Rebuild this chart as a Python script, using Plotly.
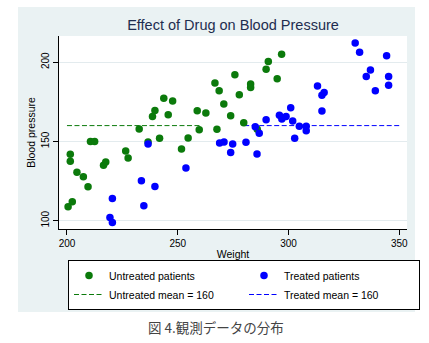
import plotly.graph_objects as go

# Untreated patients: weight vs blood pressure
untreated_weight = [200.5, 201.5, 201.5, 202.4, 204.5, 207.4, 209.5, 210.6, 212.5, 216.5,
                    217.5, 226.5, 227.6, 232.6, 236.6, 238.6, 239.7, 241.8, 243.7, 245.7,
                    247.7, 251.7, 254.7, 258.8, 259.7, 262.7, 266.8, 267.7, 268.7, 270.8,
                    273.9, 275.8, 277.8, 279.8, 282.9, 282.9, 285.9, 289.9, 290.9, 294.9,
                    296.9]
untreated_bp = [108.8, 137.5, 142.0, 112.0, 130.6, 127.7, 121.4, 150.0, 150.0, 135.0,
                137.0, 144.0, 139.6, 157.9, 149.7, 165.8, 169.6, 152.0, 177.2, 166.9,
                175.5, 145.3, 152.2, 169.4, 157.4, 167.9, 186.8, 157.7, 182.0, 173.6,
                166.2, 192.0, 179.4, 161.8, 186.2, 184.1, 157.7, 195.6, 200.4, 189.5,
                205.0]

# Treated patients: weight vs blood pressure
treated_weight = [219.4, 220.5, 220.5, 233.6, 234.7, 236.6, 239.7, 253.7, 268.9, 270.9,
                  273.9, 274.8, 280.8, 285.0, 285.8, 286.8, 289.9, 295.9, 297.0, 298.9,
                  301.0, 301.9, 302.8, 304.9, 308.0, 308.0, 313.1, 315.1, 316.1, 315.1,
                  330.1, 332.1, 335.1, 337.0, 339.2, 344.3, 345.2, 345.2]
treated_bp = [102.1, 98.9, 114.0, 125.2, 109.4, 148.4, 121.6, 133.3, 149.1, 149.7,
              143.0, 148.4, 149.5, 159.3, 142.1, 155.2, 163.7, 166.5, 164.2, 165.8,
              171.3, 162.9, 152.0, 159.6, 159.6, 156.8, 184.9, 179.1, 180.9, 169.2,
              212.1, 206.3, 191.0, 195.0, 182.0, 204.0, 191.0, 185.5]

# Group means and the weight span each reference line covers
untreated_mean = 160
treated_mean = 160
untreated_mean_span = [200, 260]
treated_mean_span = [280, 350]

x_ticks = [200, 250, 300, 350]
y_ticks = [100, 150, 200]

GREEN = "#0b7a0b"
BLUE = "#0000ff"
FONT = "Liberation Sans, Arial, sans-serif"

W, H = 429, 343
ML, MR, MT, MB = 59, 22, 36, 114
PW, PH = W - ML - MR, H - MT - MB


def px_x(px):
    return (px - ML) / PW


def px_y(py):
    return (MT + PH - py) / PH


fig = go.Figure()

fig.add_trace(go.Scatter(
    x=untreated_mean_span, y=[untreated_mean] * 2, mode="lines",
    line=dict(color=GREEN, width=1, dash="5px,2.5px"),
    name=f"Untreated mean = {untreated_mean}", legendrank=3))
fig.add_trace(go.Scatter(
    x=treated_mean_span, y=[treated_mean] * 2, mode="lines",
    line=dict(color=BLUE, width=1, dash="5px,2.5px"),
    name=f"Treated mean = {treated_mean}", legendrank=4))
fig.add_trace(go.Scatter(
    x=untreated_weight, y=untreated_bp, mode="markers",
    marker=dict(color=GREEN, size=7.5, line=dict(width=0)),
    name="Untreated patients", legendrank=1))
fig.add_trace(go.Scatter(
    x=treated_weight, y=treated_bp, mode="markers",
    marker=dict(color=BLUE, size=7.5, line=dict(width=0)),
    name="Treated patients", legendrank=2))

# graph region background and white plot region
fig.add_shape(type="rect", xref="paper", yref="paper",
              x0=px_x(18), x1=px_x(415), y0=px_y(312), y1=px_y(7),
              fillcolor="#eaf2f3", line=dict(width=0), layer="below")
fig.add_shape(type="rect", xref="paper", yref="paper",
              x0=0, x1=1, y0=0, y1=1,
              fillcolor="white", line=dict(width=0), layer="below")

fig.add_annotation(
    text="図 4.観測データの分布", xref="paper", yref="paper",
    x=px_x(216), y=px_y(327), xanchor="center", yanchor="middle",
    showarrow=False,
    font=dict(family="Noto Sans CJK JP", size=13.5, color="#444444"))

fig.update_layout(
    width=W, height=H,
    margin=dict(l=ML, r=MR, t=MT, b=MB, autoexpand=False),
    paper_bgcolor="white", plot_bgcolor="white",
    font=dict(family=FONT, color="#000000"),
    title=dict(text="Effect of Drug on Blood Pressure", x=0.5, xref="paper",
               xanchor="center", y=1 - 25 / H, yanchor="middle",
               font=dict(family=FONT, size=14.5, color="#1e2d4f")),
    showlegend=True,
    legend=dict(orientation="h", x=px_x(68), y=px_y(260),
                xanchor="left", yanchor="top",
                bgcolor="white", bordercolor="black", borderwidth=1,
                entrywidth=130, entrywidthmode="pixels",
                font=dict(family=FONT, size=10.5, color="#000000"),
                traceorder="normal"),
    xaxis=dict(range=[196.4, 353.5], tickvals=x_ticks, showgrid=False,
               zeroline=False, showline=True, linecolor="black", linewidth=1,
               ticks="outside", ticklen=5, tickcolor="black",
               tickfont=dict(size=10),
               title=dict(text="Weight", font=dict(size=10.5), standoff=2),
               automargin=False),
    yaxis=dict(range=[94.8, 216.5], tickvals=y_ticks, showgrid=True,
               gridcolor="#e3ebee", gridwidth=1,
               zeroline=False, showline=True, linecolor="black", linewidth=1,
               ticks="outside", ticklen=5, tickcolor="black", tickangle=-90,
               tickfont=dict(size=10),
               title=dict(text="Blood pressure", font=dict(size=10.5), standoff=2),
               automargin=False),
)

fig.write_html("out.html")
